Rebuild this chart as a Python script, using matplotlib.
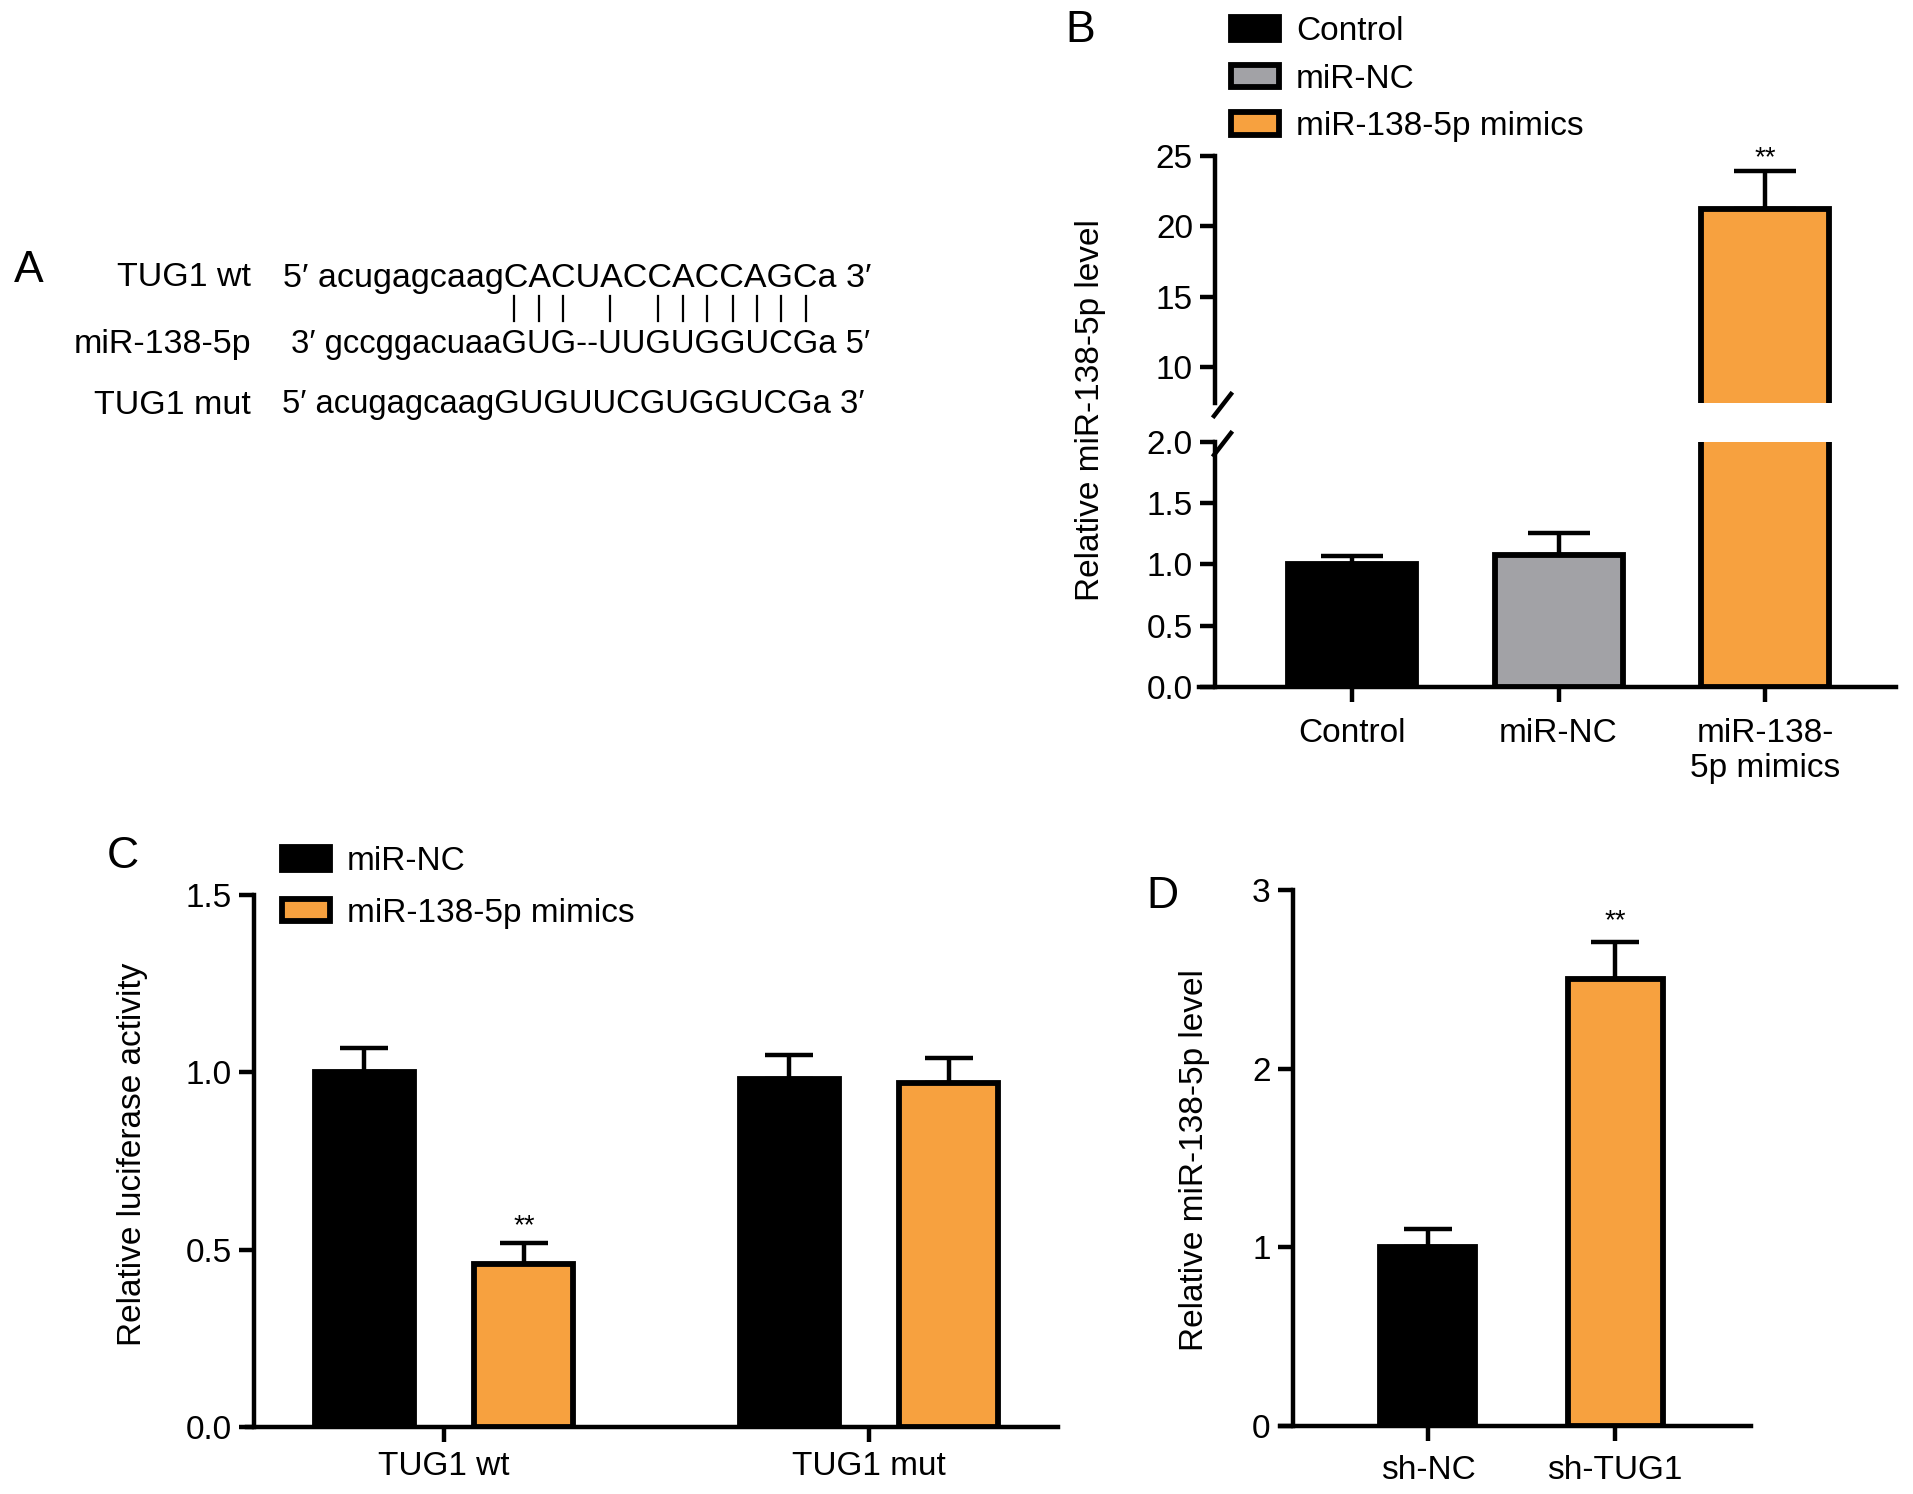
import matplotlib
matplotlib.use('Agg')
import matplotlib.pyplot as plt
from matplotlib.lines import Line2D
from matplotlib.font_manager import FontProperties

W, H = 1913, 1494
DPI = 100
FAM = ['Liberation Sans', 'DejaVu Sans']
plt.rcParams['font.family'] = FAM

# ---------------- data ----------------
seq_labels = ['TUG1 wt', 'miR-138-5p', 'TUG1 mut']
seq_texts = ['5\u2032 acugagcaagCACUACCACCAGCa 3\u2032',
             '3\u2032 gccggacuaaGUG--UUGUGGUCGa 5\u2032',
             '5\u2032 acugagcaagGUGUUCGUGGUCGa 3\u2032']
pair_idx = [13, 14, 15, 18, 20, 21, 22, 23, 24, 25, 26]   # paired bases in miR row

b_groups = ['Control', 'miR-NC', 'miR-138-\n5p mimics']
b_legend = ['Control', 'miR-NC', 'miR-138-5p mimics']
b_values = [1.0, 1.08, 21.2]
b_errors = [0.07, 0.18, 2.7]
b_low_ticks = [0.0, 0.5, 1.0, 1.5, 2.0]
b_up_ticks = [10, 15, 20, 25]

c_groups = ['TUG1 wt', 'TUG1 mut']
c_series = ['miR-NC', 'miR-138-5p mimics']
c_nc = [1.0, 0.98]
c_nc_err = [0.07, 0.07]
c_mim = [0.46, 0.97]
c_mim_err = [0.06, 0.07]
c_ticks = [0.0, 0.5, 1.0, 1.5]

d_groups = ['sh-NC', 'sh-TUG1']
d_values = [1.0, 2.5]
d_errors = [0.10, 0.21]
d_ticks = [0, 1, 2, 3]

# ---------------- style ----------------
BLACK = '#000000'
GREY = '#A2A2A6'
ORANGE = '#F7A13F'
FS = 24
FSA_LAB = 24.5
FSA_SEQ = [24.5, 23.6, 23.6]
LW_SP = 3.2
LW_BAR = 4.2
TL = 11

fig = plt.figure(figsize=(W / DPI, H / DPI), dpi=DPI)


def add_ax(x0, y0, x1, y1):
    return fig.add_axes([x0 / W, 1 - y1 / H, (x1 - x0) / W, (y1 - y0) / H])


def fx(x):
    return x / W


def fy(y):
    return 1 - y / H


def style_ax(ax, bottom=True, xpad=6):
    for s in ['top', 'right']:
        ax.spines[s].set_visible(False)
    ax.spines['left'].set_linewidth(LW_SP)
    ax.spines['bottom'].set_linewidth(LW_SP)
    if not bottom:
        ax.spines['bottom'].set_visible(False)
    ax.tick_params(axis='both', labelsize=FS, width=LW_SP, length=TL, color=BLACK)
    ax.tick_params(axis='y', pad=5)
    ax.tick_params(axis='x', pad=xpad)
    ax.patch.set_alpha(0)


# ---------------- Panel A ----------------
fig.text(fx(29), fy(270), 'A', fontsize=32, ha='center', va='center')
row_y = [278, 345, 405]
seq_x = [283, 291, 282]
seq_objs = []
for lab, s, y, x, fsz in zip(seq_labels, seq_texts, row_y, seq_x, FSA_SEQ):
    fig.text(fx(251), fy(y), lab, fontsize=FSA_LAB, ha='right', va='center')
    seq_objs.append(fig.text(fx(x), fy(y), s, fontsize=fsz, ha='left', va='center'))

fig.canvas.draw()
renderer = fig.canvas.get_renderer()
fp = FontProperties(family=FAM, size=FSA_SEQ[1])
mir = seq_texts[1]
x_base = seq_objs[1].get_window_extent(renderer).x0
for i in pair_idx:
    w_pre = renderer.get_text_width_height_descent(mir[:i], fp, ismath=False)[0] if i > 0 else 0
    w_ch = renderer.get_text_width_height_descent(mir[i], fp, ismath=False)[0]
    xc = x_base + w_pre + w_ch / 2
    fig.add_artist(Line2D([xc / W, xc / W], [fy(296), fy(321)], color=BLACK, lw=1.6))

# ---------------- Panel B ----------------
bx = list(range(len(b_values)))
b_colors = [BLACK, GREY, ORANGE]
B_XL = (-0.741, 2.634)
B_SPX = -0.663
BW = 0.62

axBu = add_ax(1199, 156, 1896, 403)
axBl = add_ax(1199, 442, 1896, 687)
bars = None
for ax in (axBu, axBl):
    ax.errorbar(bx, b_values, yerr=[[0] * len(b_errors), b_errors], fmt='none',
                ecolor=BLACK, elinewidth=LW_SP, capsize=22, capthick=LW_SP, zorder=2)
    bb = ax.bar(bx, b_values, width=BW, color=b_colors, edgecolor=BLACK,
                linewidth=LW_BAR, zorder=3)
    if bars is None:
        bars = bb
    ax.set_xlim(*B_XL)
    ax.spines['left'].set_position(('data', B_SPX))

style_ax(axBu, bottom=False)
style_ax(axBl, xpad=11)
axBu.set_ylim(7.44, 25)
axBu.set_yticks(b_up_ticks)
axBu.set_yticklabels([str(t) for t in b_up_ticks])
axBu.set_xticks([])
axBl.set_ylim(0, 2)
axBl.set_yticks(b_low_ticks)
axBl.set_yticklabels(['%.1f' % t for t in b_low_ticks])
axBl.set_xticks(bx)
axBl.set_xticklabels(b_groups, ha='center', multialignment='center')
axBl.spines['bottom'].set_bounds(B_XL[0], B_XL[1])
axBu.text(bx[2], b_values[2] + b_errors[2], '**', ha='center', va='bottom', fontsize=20)

# break marks
for yc in (405, 444):
    fig.add_artist(Line2D([fx(1214), fx(1231)], [fy(yc + 11), fy(yc - 11)],
                          color=BLACK, lw=LW_SP))

fig.text(fx(1091), fy(410), 'Relative miR-138-5p level', fontsize=FS, rotation=90,
         ha='center', va='center')
fig.text(fx(1080), fy(31), 'B', fontsize=32, ha='center', va='center')
fig.legend(bars.patches, b_legend, loc='upper left',
           bbox_to_anchor=(fx(1231), fy(16)), bbox_transform=fig.transFigure,
           frameon=False, fontsize=FS, handlelength=1.45, handleheight=0.68,
           handletextpad=0.5, labelspacing=0.5, borderpad=0, borderaxespad=0)

# ---------------- Panel C ----------------
axC = add_ax(247, 895, 1058, 1427)
cx = list(range(len(c_groups)))
OFF = 0.188
CW = 0.233
axC.errorbar([x - OFF for x in cx], c_nc, yerr=[[0] * 2, c_nc_err], fmt='none', ecolor=BLACK,
             elinewidth=LW_SP, capsize=17, capthick=LW_SP, zorder=2)
axC.errorbar([x + OFF for x in cx], c_mim, yerr=[[0] * 2, c_mim_err], fmt='none', ecolor=BLACK,
             elinewidth=LW_SP, capsize=17, capthick=LW_SP, zorder=2)
c1 = axC.bar([x - OFF for x in cx], c_nc, width=CW, color=BLACK, edgecolor=BLACK,
             linewidth=LW_BAR, zorder=3, label=c_series[0])
c2 = axC.bar([x + OFF for x in cx], c_mim, width=CW, color=ORANGE, edgecolor=BLACK,
             linewidth=LW_BAR, zorder=3, label=c_series[1])
axC.set_xlim(-0.4635, 1.445)
axC.set_ylim(0, 1.5)
style_ax(axC, xpad=6)
axC.spines['left'].set_position(('data', -0.447))
axC.spines['bottom'].set_bounds(-0.4635, 1.445)
axC.set_yticks(c_ticks)
axC.set_yticklabels(['%.1f' % t for t in c_ticks])
axC.set_xticks(cx)
axC.set_xticklabels(c_groups)
axC.text(cx[0] + OFF, c_mim[0] + c_mim_err[0] + 0.01, '**', ha='center', va='bottom', fontsize=20)
fig.text(fx(132), fy(1154), 'Relative luciferase activity', fontsize=FS, rotation=90,
         ha='center', va='center')
fig.text(fx(123), fy(857), 'C', fontsize=32, ha='center', va='center')
fig.legend([c1.patches[0], c2.patches[0]], c_series, loc='upper left',
           bbox_to_anchor=(fx(282), fy(846)), bbox_transform=fig.transFigure,
           frameon=False, fontsize=FS, handlelength=1.45, handleheight=0.68,
           handletextpad=0.5, labelspacing=0.62, borderpad=0, borderaxespad=0)

# ---------------- Panel D ----------------
axD = add_ax(1280, 890, 1751, 1426)
dx = list(range(len(d_groups)))
axD.errorbar(dx, d_values, yerr=[[0] * 2, d_errors], fmt='none', ecolor=BLACK,
             elinewidth=LW_SP, capsize=17, capthick=LW_SP, zorder=2)
axD.bar(dx, d_values, width=0.508, color=[BLACK, ORANGE], edgecolor=BLACK,
        linewidth=LW_BAR, zorder=3)
axD.set_xlim(-0.791, 1.727)
axD.set_ylim(0, 3)
style_ax(axD, xpad=10)
axD.spines['left'].set_position(('data', -0.722))
axD.spines['bottom'].set_bounds(-0.791, 1.727)
axD.set_yticks(d_ticks)
axD.set_xticks(dx)
axD.set_xticklabels(d_groups)
axD.text(dx[1], d_values[1] + d_errors[1] + 0.04, '**', ha='center', va='bottom', fontsize=20)
fig.text(fx(1194), fy(1160), 'Relative miR-138-5p level', fontsize=FS, rotation=90,
         ha='center', va='center')
fig.text(fx(1162), fy(896), 'D', fontsize=32, ha='center', va='center')

fig.savefig('out.png', dpi=DPI)
